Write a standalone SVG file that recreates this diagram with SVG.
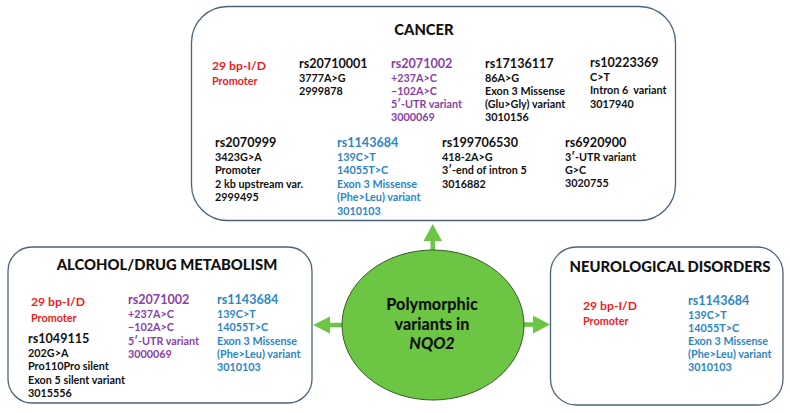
<svg xmlns="http://www.w3.org/2000/svg" width="790" height="413" viewBox="0 0 790 413">
<style>
text{font-family:Lato,"Open Sans","Liberation Sans",sans-serif;font-weight:bold;fill:#111}
.box{fill:#fff;stroke:#4d6478;stroke-width:1.3}
.title{font-size:14.8px;text-anchor:middle;font-weight:900}
.rs{font-size:12.6px}
.rd{font-size:12.2px}
.d{font-size:10.8px}
.red{fill:#ee1c24}
.pur{fill:#8a3fa6}
.blu{fill:#2d86c4}
.arr{fill:#6cc644}
.c{font-size:16.2px;text-anchor:middle;font-weight:900}
</style>
<rect width="790" height="413" fill="#fff"/>
<g id="connectors">
<rect class="arr" x="430.5" y="240" width="4.5" height="11"/>
<polygon class="arr" points="432.7,224 442,241 423.5,241"/>
<rect class="arr" x="328" y="322.8" width="15" height="4.5"/>
<polygon class="arr" points="313,325 330,316.5 330,333.5"/>
<rect class="arr" x="522" y="322.3" width="13" height="4.5"/>
<polygon class="arr" points="550,324.5 533,315.5 533,333.5"/>
</g>
<g id="cancer">
<rect class="box" x="191.5" y="6.5" width="484" height="214" rx="36" ry="36"/>
<text class="title" x="424" y="35">CANCER</text>
<text class="rd red" x="212" y="70">29 bp-I/D</text>
<text class="d red" x="212" y="85">Promoter</text>
<text class="rs" x="299" y="68">rs20710001</text>
<text class="d" x="299" y="82">3777A&gt;G</text>
<text class="d" x="299" y="95">2999878</text>
<text class="rs pur" x="391" y="68">rs2071002</text>
<text class="d pur" x="391" y="82">+237A&gt;C</text>
<text class="d pur" x="391" y="95">−102A&gt;C</text>
<text class="d pur" x="391" y="107.5">5′-UTR variant</text>
<text class="d pur" x="391" y="120.5">3000069</text>
<text class="rs" x="485" y="68">rs17136117</text>
<text class="d" x="485" y="82">86A&gt;G</text>
<text class="d" x="485" y="95">Exon 3 Missense</text>
<text class="d" x="485" y="107.5">(Glu&gt;Gly) variant</text>
<text class="d" x="485" y="120.5">3010156</text>
<text class="rs" x="590" y="67">rs10223369</text>
<text class="d" x="590" y="80.5">C&gt;T</text>
<text class="d" x="590" y="94" xml:space="preserve">Intron 6  variant</text>
<text class="d" x="590" y="107.5">3017940</text>
<text class="rs" x="215" y="147">rs2070999</text>
<text class="d" x="215" y="160.5">3423G&gt;A</text>
<text class="d" x="215" y="174">Promoter</text>
<text class="d" x="215" y="187.5">2 kb upstream var.</text>
<text class="d" x="215" y="201">2999495</text>
<text class="rs blu" x="337" y="147">rs1143684</text>
<text class="d blu" x="337" y="160.5">139C&gt;T</text>
<text class="d blu" x="337" y="174">14055T&gt;C</text>
<text class="d blu" x="337" y="187.5">Exon 3 Missense</text>
<text class="d blu" x="337" y="201">(Phe&gt;Leu) variant</text>
<text class="d blu" x="337" y="214.5">3010103</text>
<text class="rs" x="442" y="147">rs199706530</text>
<text class="d" x="442" y="160.5">418-2A&gt;G</text>
<text class="d" x="442" y="174">3′-end of intron 5</text>
<text class="d" x="442" y="187.5">3016882</text>
<text class="rs" x="565" y="147">rs6920900</text>
<text class="d" x="565" y="160.5">3′-UTR variant</text>
<text class="d" x="565" y="173.5">G&gt;C</text>
<text class="d" x="565" y="187">3020755</text>
</g>
<g id="alcohol">
<rect class="box" x="8" y="247" width="304" height="156" rx="24" ry="24"/>
<text class="title" x="167" y="270">ALCOHOL/DRUG METABOLISM</text>
<text class="rd red" x="31" y="306">29 bp-I/D</text>
<text class="d red" x="31" y="322">Promoter</text>
<text class="rs" x="28" y="343">rs1049115</text>
<text class="d" x="28" y="357">202G&gt;A</text>
<text class="d" x="28" y="370">Pro110Pro silent</text>
<text class="d" x="28" y="383.5">Exon 5 silent variant</text>
<text class="d" x="28" y="397">3015556</text>
<text class="rs pur" x="128" y="304">rs2071002</text>
<text class="d pur" x="128" y="318">+237A&gt;C</text>
<text class="d pur" x="128" y="331">−102A&gt;C</text>
<text class="d pur" x="128" y="344.5">5′-UTR variant</text>
<text class="d pur" x="128" y="358">3000069</text>
<text class="rs blu" x="217" y="304">rs1143684</text>
<text class="d blu" x="217" y="318">139C&gt;T</text>
<text class="d blu" x="217" y="331">14055T&gt;C</text>
<text class="d blu" x="217" y="344.5">Exon 3 Missense</text>
<text class="d blu" x="217" y="358">(Phe&gt;Leu) variant</text>
<text class="d blu" x="217" y="371">3010103</text>
</g>
<g id="neuro">
<rect class="box" x="550.5" y="247" width="232.5" height="158" rx="26" ry="26"/>
<text class="title" x="670" y="272">NEUROLOGICAL DISORDERS</text>
<text class="rd red" x="583" y="310">29 bp-I/D</text>
<text class="d red" x="583" y="325">Promoter</text>
<text class="rs blu" x="688" y="305">rs1143684</text>
<text class="d blu" x="688" y="318.5">139C&gt;T</text>
<text class="d blu" x="688" y="331.5">14055T&gt;C</text>
<text class="d blu" x="688" y="344.5">Exon 3 Missense</text>
<text class="d blu" x="688" y="357.5">(Phe&gt;Leu) variant</text>
<text class="d blu" x="688" y="371">3010103</text>
</g>
<g id="center">
<ellipse cx="433" cy="325" rx="91" ry="75" fill="#6cc644" stroke="#355a2a" stroke-width="1"/>
<text class="c" x="432" y="310">Polymorphic</text>
<text class="c" x="432" y="330">variants in</text>
<text class="c" x="432" y="349" font-style="italic">NQO2</text>
</g>
</svg>
